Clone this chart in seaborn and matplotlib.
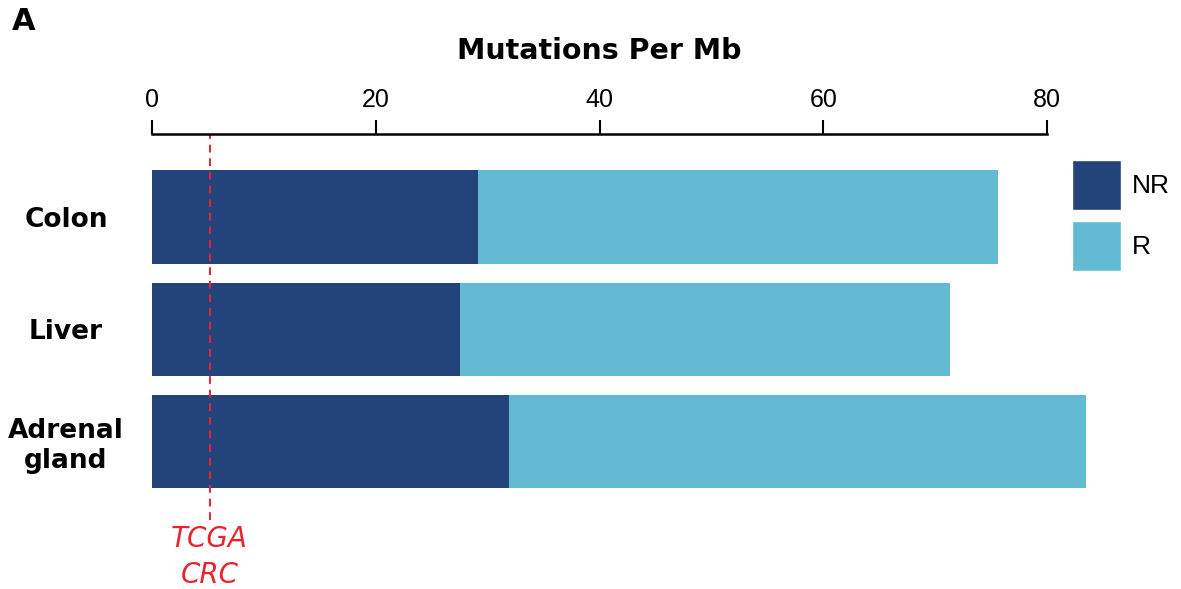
import numpy as np
import pandas as pd
import matplotlib
matplotlib.use('Agg')
import matplotlib.pyplot as plt
import seaborn as sns
from matplotlib.patches import Patch
from matplotlib.transforms import blended_transform_factory

# Data
tissues = ['Colon', 'Liver', 'Adrenal\ngland']
nr_values = [29.1, 27.5, 31.9]
r_values = [46.5, 43.8, 51.6]
tcga_crc = 5.15
x_ticks = [0, 20, 40, 60, 80]

NR_COLOR = '#22447A'
R_COLOR = '#62BBD3'
RED = '#E8232F'

sns.set_theme(style='white', rc={'text.color': 'black', 'axes.labelcolor': 'black',
                                 'xtick.color': 'black', 'ytick.color': 'black'})
plt.rcParams['font.family'] = ['DejaVu Sans']

df = pd.DataFrame({'tissue': tissues, 'NR': nr_values, 'R': r_values})
df['total'] = df['NR'] + df['R']

fig = plt.figure(figsize=(11.81, 5.89), dpi=100)
ax = fig.add_axes([0.1287, 0.1171, 0.8148, 0.6554])

# stacked bars: full length in R colour, NR drawn over it
sns.barplot(data=df, x='total', y='tissue', color=R_COLOR, saturation=1,
            width=0.83, linewidth=0, ax=ax)
sns.barplot(data=df, x='NR', y='tissue', color=NR_COLOR, saturation=1,
            width=0.83, linewidth=0, ax=ax)

ax.set_xlim(0, 86)
ax.set_ylim(2.70, -0.74)

# axis on top, only spanning 0..80
for side in ['left', 'right', 'bottom']:
    ax.spines[side].set_visible(False)
ax.spines['top'].set_visible(True)
ax.spines['top'].set_bounds(0, 80)
ax.spines['top'].set_linewidth(1.8)
ax.spines['top'].set_color('black')

ax.xaxis.set_ticks_position('top')
ax.xaxis.set_label_position('top')
ax.set_xticks(x_ticks)
ax.set_xticklabels([str(t) for t in x_ticks], family='Liberation Sans', fontsize=18)
ax.tick_params(axis='x', direction='out', length=10, width=1.5, color='black', pad=6)
ax.set_xlabel('Mutations Per Mb', fontsize=20.5, fontweight='bold')
ax.xaxis.label.set_va('bottom')
# centre the title over the 0..80 span
ax.xaxis.set_label_coords(40 / 86, 1.0 + 69 / 386)

ax.tick_params(axis='y', length=0, pad=62)
for lbl in ax.get_yticklabels():
    lbl.set_fontsize(19)
    lbl.set_fontweight('bold')
    lbl.set_ha('center')
    lbl.set_multialignment('center')
ax.set_ylabel('')

# TCGA CRC reference line
ax.axvline(tcga_crc, ymin=0, ymax=1, color=RED, linestyle=(0, (4, 3)), linewidth=1.4)
trans = blended_transform_factory(ax.transData, ax.transAxes)
ax.text(tcga_crc, -0.095, 'TCGA\nCRC', transform=trans, color=RED, fontsize=20,
        fontstyle='italic', ha='center', va='center', linespacing=1.35)

handles = [Patch(facecolor=NR_COLOR, label='NR'), Patch(facecolor=R_COLOR, label='R')]
fig.legend(handles=handles, loc='upper left', bbox_to_anchor=(1072 / 1181, 1 - 160 / 589),
           frameon=False, prop={'family': 'Liberation Sans', 'size': 19},
           handlelength=1.85, handleheight=2.55, labelspacing=0.4, handletextpad=0.4,
           borderpad=0, borderaxespad=0)

fig.text(12 / 1181, 1 - 21 / 589, 'A', fontsize=22, fontweight='bold', va='center', ha='left')

fig.savefig('out.png', dpi=100)
